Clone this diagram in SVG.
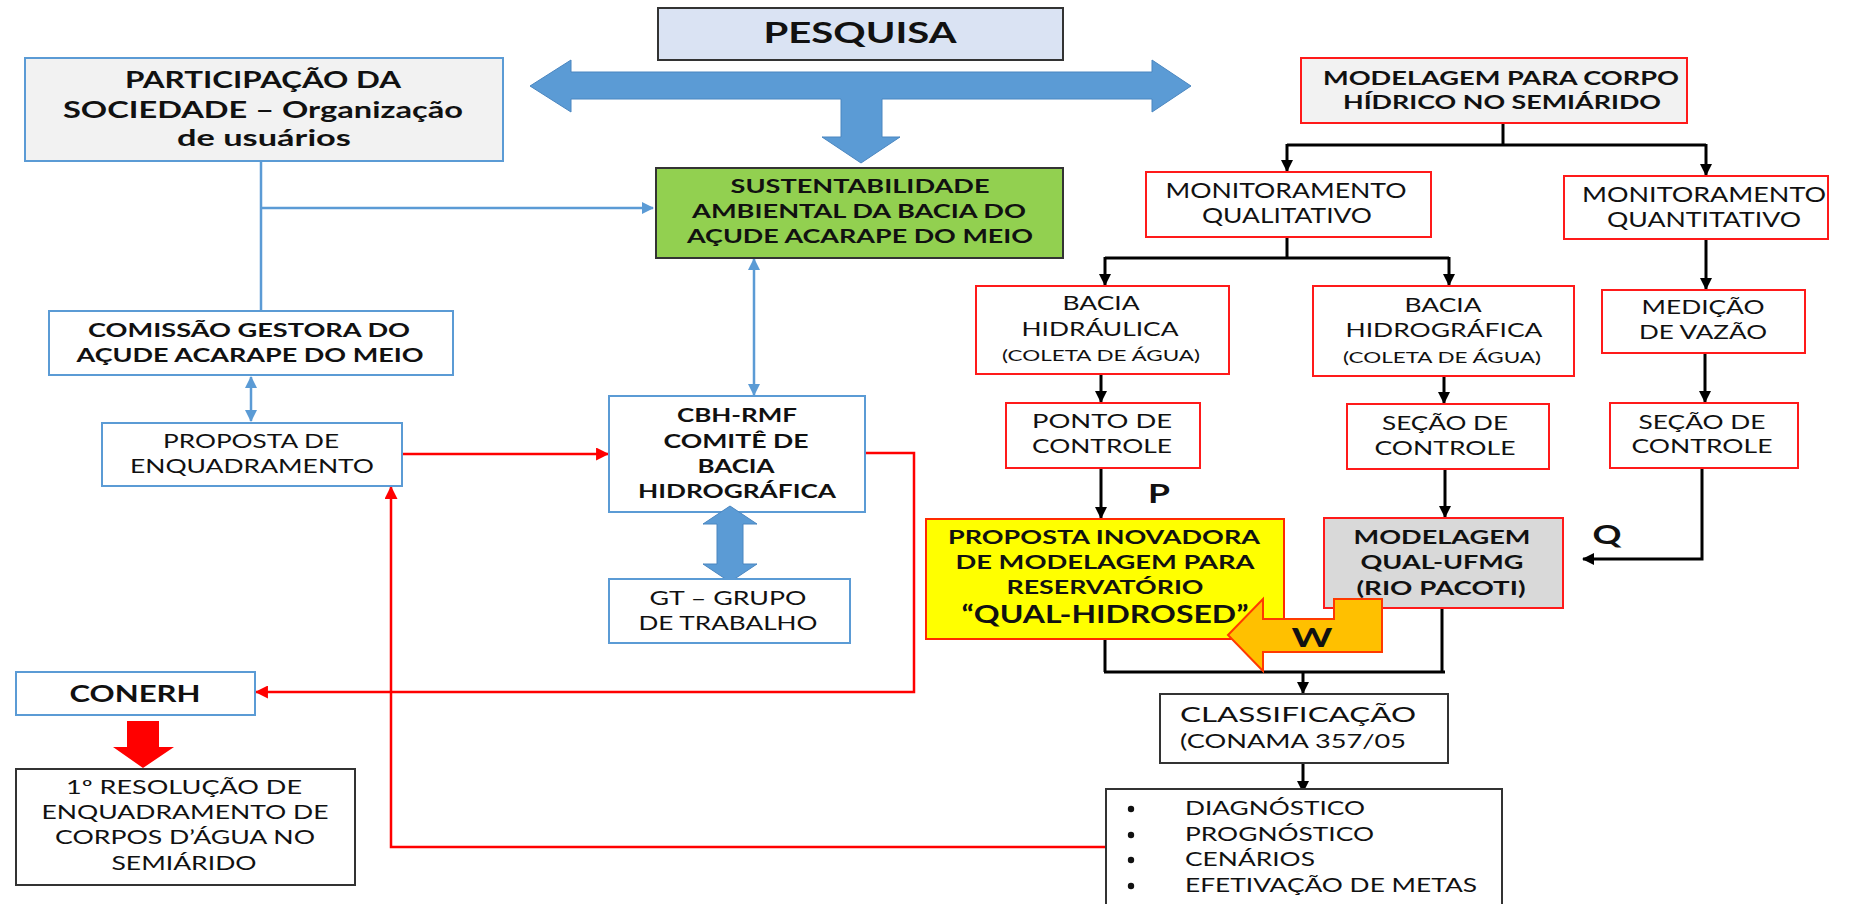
<svg xmlns="http://www.w3.org/2000/svg" width="1852" height="904" viewBox="0 0 1852 904">
<style>
text{font-family:Lato,"Open Sans","Liberation Sans",sans-serif;fill:#111;text-anchor:middle}
.b{font-weight:bold}
.r{font-weight:normal}
.bx{stroke-width:2}
.blue{fill:#fff;stroke:#5B9BD5}
.red{fill:#fff;stroke:#FF1A1A}
.blk{fill:#fff;stroke:#333}
.cb{fill:none;stroke:#000;stroke-width:3}
.cl{fill:none;stroke:#5B9BD5;stroke-width:2.5}
.cr{fill:none;stroke:#FF0000;stroke-width:2.5}
</style>
<defs>
<marker id="ak" viewBox="0 0 12 12" refX="11" refY="6" markerWidth="12" markerHeight="12" orient="auto-start-reverse" markerUnits="userSpaceOnUse"><path d="M0,0 L12,6 L0,12 z" fill="#000"/></marker>
<marker id="al" viewBox="0 0 12 12" refX="11" refY="6" markerWidth="12" markerHeight="12" orient="auto-start-reverse" markerUnits="userSpaceOnUse"><path d="M0,0 L12,6 L0,12 z" fill="#5B9BD5"/></marker>
<marker id="ar" viewBox="0 0 12 12" refX="11" refY="6" markerWidth="13" markerHeight="13" orient="auto-start-reverse" markerUnits="userSpaceOnUse"><path d="M0,0 L12,6 L0,12 z" fill="#FF0000"/></marker>
</defs>

<g id="connectors">
<!-- blue -->
<path class="cl" d="M261,161 V311"/>
<path class="cl" d="M261,208 H653" marker-end="url(#al)"/>
<path class="cl" d="M251,377 V421" marker-start="url(#al)" marker-end="url(#al)"/>
<path class="cl" d="M754,259 V395" marker-start="url(#al)" marker-end="url(#al)"/>
<!-- red -->
<path class="cr" d="M402,454 H608" marker-end="url(#ar)"/>
<path class="cr" d="M865,453 H914 V692 H256" marker-end="url(#ar)"/>
<path class="cr" d="M1106,847 H391 V487" marker-end="url(#ar)"/>
<!-- black -->
<path class="cb" d="M1503,123 V145"/>
<path class="cb" d="M1287,145 H1706"/>
<path class="cb" d="M1287,144 V171" marker-end="url(#ak)"/>
<path class="cb" d="M1706,144 V175" marker-end="url(#ak)"/>
<path class="cb" d="M1287,237 V258"/>
<path class="cb" d="M1105,258 H1449"/>
<path class="cb" d="M1105,257 V285" marker-end="url(#ak)"/>
<path class="cb" d="M1449,257 V285" marker-end="url(#ak)"/>
<path class="cb" d="M1706,239 V289" marker-end="url(#ak)"/>
<path class="cb" d="M1101,374 V402" marker-end="url(#ak)"/>
<path class="cb" d="M1444,368 V403" marker-end="url(#ak)"/>
<path class="cb" d="M1705,353 V402" marker-end="url(#ak)"/>
<path class="cb" d="M1101,468 V518" marker-end="url(#ak)"/>
<path class="cb" d="M1445,469 V517" marker-end="url(#ak)"/>
<path class="cb" d="M1702,468 V559 H1583" marker-end="url(#ak)"/>
<path class="cb" d="M1105,639 V672"/>
<path class="cb" d="M1442,608 V672"/>
<path class="cb" d="M1104,672 H1445"/>
<path class="cb" d="M1303,671 V693" marker-end="url(#ak)"/>
<path class="cb" d="M1303,763 V792" marker-end="url(#ak)"/>
</g>

<g id="pesquisa">
<rect x="658" y="8" width="405" height="52" fill="#DAE3F3" stroke="#333" stroke-width="2"/>
<text class="b" x="860" y="43" font-size="28" textLength="193" lengthAdjust="spacingAndGlyphs">PESQUISA</text>
</g>
<g id="pesquisa-arrow">
<polygon points="530,86 571,60 571,72 1152,72 1152,60 1191,86 1152,112 1152,99 882,99 882,137 900,137 861,163 822,137 841,137 841,99 571,99 571,112" fill="#5B9BD5" stroke="#4A86C0" stroke-width="1"/>
</g>

<g id="participacao">
<rect class="bx" x="25" y="58" width="478" height="103" fill="#F2F2F2" stroke="#5B9BD5"/>
<text class="b" x="263" y="88" font-size="22" textLength="276" lengthAdjust="spacingAndGlyphs">PARTICIPAÇÃO DA</text>
<text class="b" x="263" y="118" font-size="22" textLength="400" lengthAdjust="spacingAndGlyphs">SOCIEDADE – Organização</text>
<text class="b" x="264" y="146" font-size="22" textLength="174" lengthAdjust="spacingAndGlyphs">de usuários</text>
</g>

<g id="sustentabilidade">
<rect x="656" y="168" width="407" height="90" fill="#92D050" stroke="#333" stroke-width="2"/>
<text class="b" x="860" y="193" font-size="19" textLength="259" lengthAdjust="spacingAndGlyphs">SUSTENTABILIDADE</text>
<text class="b" x="859" y="218" font-size="19" textLength="334" lengthAdjust="spacingAndGlyphs">AMBIENTAL DA BACIA DO</text>
<text class="b" x="860" y="243" font-size="19" textLength="346" lengthAdjust="spacingAndGlyphs">AÇUDE ACARAPE DO MEIO</text>
</g>

<g id="comissao">
<rect class="bx blue" x="49" y="311" width="404" height="64"/>
<text class="b" x="249" y="337" font-size="19" textLength="322" lengthAdjust="spacingAndGlyphs">COMISSÃO GESTORA DO</text>
<text class="b" x="250" y="362" font-size="19" textLength="347" lengthAdjust="spacingAndGlyphs">AÇUDE ACARAPE DO MEIO</text>
</g>

<g id="proposta-enquadramento">
<rect class="bx blue" x="102" y="423" width="300" height="63"/>
<text class="r" x="251" y="448" font-size="19" textLength="176" lengthAdjust="spacingAndGlyphs">PROPOSTA DE</text>
<text class="r" x="252" y="473" font-size="19" textLength="244" lengthAdjust="spacingAndGlyphs">ENQUADRAMENTO</text>
</g>

<g id="cbh">
<rect class="bx blue" x="609" y="396" width="256" height="116"/>
<text class="b" x="737" y="422" font-size="19" textLength="120" lengthAdjust="spacingAndGlyphs">CBH-RMF</text>
<text class="b" x="736" y="448" font-size="19" textLength="145" lengthAdjust="spacingAndGlyphs">COMITÊ DE</text>
<text class="b" x="736" y="473" font-size="19" textLength="77" lengthAdjust="spacingAndGlyphs">BACIA</text>
<text class="b" x="737" y="498" font-size="19" textLength="198" lengthAdjust="spacingAndGlyphs">HIDROGRÁFICA</text>
</g>

<g id="cbh-gt-arrow">
<polygon points="730,506 757,524 743,524 743,564 757,564 730,582 703,564 717,564 717,524 703,524" fill="#5B9BD5" stroke="#4A86C0" stroke-width="1"/>
</g>

<g id="gt">
<rect class="bx blue" x="609" y="579" width="241" height="64"/>
<text class="r" x="728" y="605" font-size="19" textLength="157" lengthAdjust="spacingAndGlyphs">GT – GRUPO</text>
<text class="r" x="728" y="630" font-size="19" textLength="179" lengthAdjust="spacingAndGlyphs">DE TRABALHO</text>
</g>

<g id="conerh">
<rect class="bx blue" x="16" y="672" width="239" height="43"/>
<text class="b" x="135" y="702" font-size="23" textLength="131" lengthAdjust="spacingAndGlyphs">CONERH</text>
</g>

<g id="conerh-arrow">
<polygon points="127,721 159,721 159,747 174,747 143,768 113,747 127,747" fill="#FF0000"/>
</g>

<g id="resolucao">
<rect class="bx blk" x="16" y="769" width="339" height="116"/>
<text class="r" x="184" y="794" font-size="19" textLength="236" lengthAdjust="spacingAndGlyphs">1º RESOLUÇÃO DE</text>
<text class="r" x="185" y="819" font-size="19" textLength="287" lengthAdjust="spacingAndGlyphs">ENQUADRAMENTO DE</text>
<text class="r" x="185" y="844" font-size="19" textLength="260" lengthAdjust="spacingAndGlyphs">CORPOS D’ÁGUA NO</text>
<text class="r" x="184" y="870" font-size="19" textLength="145" lengthAdjust="spacingAndGlyphs">SEMIÁRIDO</text>
</g>

<g id="modelagem-corpo">
<rect class="bx" x="1301" y="58" width="386" height="65" fill="#F2F2F2" stroke="#FF1A1A"/>
<text class="b" x="1501" y="85" font-size="19.5" textLength="356" lengthAdjust="spacingAndGlyphs">MODELAGEM PARA CORPO</text>
<text class="b" x="1502" y="109" font-size="19.5" textLength="318" lengthAdjust="spacingAndGlyphs">HÍDRICO  NO SEMIÁRIDO</text>
</g>

<g id="monit-qualitativo">
<rect class="bx red" x="1146" y="172" width="285" height="65"/>
<text class="r" x="1286" y="198" font-size="21" textLength="241" lengthAdjust="spacingAndGlyphs">MONITORAMENTO</text>
<text class="r" x="1287" y="223" font-size="21" textLength="170" lengthAdjust="spacingAndGlyphs">QUALITATIVO</text>
</g>

<g id="monit-quantitativo">
<rect class="bx red" x="1564" y="176" width="264" height="63"/>
<text class="r" x="1704" y="202" font-size="21" textLength="244" lengthAdjust="spacingAndGlyphs">MONITORAMENTO</text>
<text class="r" x="1704" y="227" font-size="21" textLength="194" lengthAdjust="spacingAndGlyphs">QUANTITATIVO</text>
</g>

<g id="bacia-hidraulica">
<rect class="bx red" x="976" y="286" width="253" height="88"/>
<text class="r" x="1101" y="310" font-size="19" textLength="77" lengthAdjust="spacingAndGlyphs">BACIA</text>
<text class="r" x="1100" y="336" font-size="19" textLength="157" lengthAdjust="spacingAndGlyphs">HIDRÁULICA</text>
<text class="r" x="1101" y="361" font-size="16" textLength="198" lengthAdjust="spacingAndGlyphs">(COLETA  DE ÁGUA)</text>
</g>

<g id="bacia-hidrografica">
<rect class="bx red" x="1313" y="286" width="261" height="90"/>
<text class="r" x="1443" y="312" font-size="19" textLength="77" lengthAdjust="spacingAndGlyphs">BACIA</text>
<text class="r" x="1444" y="337" font-size="19" textLength="197" lengthAdjust="spacingAndGlyphs">HIDROGRÁFICA</text>
<text class="r" x="1442" y="363" font-size="16" textLength="198" lengthAdjust="spacingAndGlyphs">(COLETA  DE ÁGUA)</text>
</g>

<g id="medicao">
<rect class="bx red" x="1602" y="290" width="203" height="63"/>
<text class="r" x="1703" y="314" font-size="20" textLength="123" lengthAdjust="spacingAndGlyphs">MEDIÇÃO</text>
<text class="r" x="1703" y="339" font-size="20" textLength="128" lengthAdjust="spacingAndGlyphs">DE VAZÃO</text>
</g>

<g id="ponto-controle">
<rect class="bx red" x="1006" y="403" width="194" height="65"/>
<text class="r" x="1102" y="428" font-size="19" textLength="140" lengthAdjust="spacingAndGlyphs">PONTO  DE</text>
<text class="r" x="1102" y="453" font-size="19" textLength="140" lengthAdjust="spacingAndGlyphs">CONTROLE</text>
</g>

<g id="secao-controle-1">
<rect class="bx red" x="1347" y="404" width="202" height="65"/>
<text class="r" x="1445" y="430" font-size="20" textLength="126" lengthAdjust="spacingAndGlyphs">SEÇÃO DE</text>
<text class="r" x="1445" y="455" font-size="20" textLength="141" lengthAdjust="spacingAndGlyphs">CONTROLE</text>
</g>

<g id="secao-controle-2">
<rect class="bx red" x="1610" y="403" width="188" height="65"/>
<text class="r" x="1702" y="429" font-size="20" textLength="127" lengthAdjust="spacingAndGlyphs">SEÇÃO DE</text>
<text class="r" x="1702" y="453" font-size="20" textLength="141" lengthAdjust="spacingAndGlyphs">CONTROLE</text>
</g>

<g id="label-p"><text class="b" x="1159" y="503" font-size="26" textLength="22" lengthAdjust="spacingAndGlyphs">P</text></g>
<g id="label-q"><text class="b" x="1607" y="544" font-size="27" textLength="29" lengthAdjust="spacingAndGlyphs">Q</text></g>

<g id="qual-hidrosed">
<rect class="bx" x="926" y="519" width="358" height="120" fill="#FFFF00" stroke="#FF2A00"/>
<text class="b" x="1104" y="544" font-size="19" textLength="312" lengthAdjust="spacingAndGlyphs">PROPOSTA INOVADORA</text>
<text class="b" x="1105" y="569" font-size="19" textLength="299" lengthAdjust="spacingAndGlyphs">DE MODELAGEM PARA</text>
<text class="b" x="1105" y="594" font-size="19" textLength="197" lengthAdjust="spacingAndGlyphs">RESERVATÓRIO</text>
<text class="b" x="1105" y="623" font-size="25" textLength="287" lengthAdjust="spacingAndGlyphs">“QUAL-HIDROSED”</text>
</g>

<g id="qual-ufmg">
<rect class="bx" x="1324" y="518" width="239" height="90" fill="#D9D9D9" stroke="#FF1A1A"/>
<text class="b" x="1442" y="544" font-size="19" textLength="177" lengthAdjust="spacingAndGlyphs">MODELAGEM</text>
<text class="b" x="1442" y="569" font-size="19" textLength="163" lengthAdjust="spacingAndGlyphs">QUAL-UFMG</text>
<text class="b" x="1441" y="595" font-size="19" textLength="169" lengthAdjust="spacingAndGlyphs">(RIO PACOTI)</text>
</g>

<g id="w-arrow">
<polygon points="1334,599 1382,599 1382,652 1263,652 1263,671 1228,635 1263,599 1263,619 1334,619" fill="#FFC000" stroke="#FF3A00" stroke-width="2" stroke-linejoin="miter"/>
<text class="b" x="1312" y="647" font-size="27" textLength="41" lengthAdjust="spacingAndGlyphs">W</text>
</g>

<g id="classificacao">
<rect class="bx blk" x="1160" y="694" width="288" height="69"/>
<text class="r" x="1180" y="722" font-size="22" style="text-anchor:start" textLength="236" lengthAdjust="spacingAndGlyphs">CLASSIFICAÇÃO</text>
<text class="r" x="1180" y="748" font-size="19" style="text-anchor:start" textLength="226" lengthAdjust="spacingAndGlyphs">(CONAMA 357/05</text>
</g>

<g id="resultados">
<rect class="bx blk" x="1106" y="789" width="396" height="130"/>
<circle cx="1131" cy="809" r="3.2" fill="#111"/>
<circle cx="1131" cy="835" r="3.2" fill="#111"/>
<circle cx="1131" cy="860" r="3.2" fill="#111"/>
<circle cx="1131" cy="886" r="3.2" fill="#111"/>
<text class="r" x="1185" y="815" font-size="19" style="text-anchor:start" textLength="180" lengthAdjust="spacingAndGlyphs">DIAGNÓSTICO</text>
<text class="r" x="1185" y="841" font-size="19" style="text-anchor:start" textLength="189" lengthAdjust="spacingAndGlyphs">PROGNÓSTICO</text>
<text class="r" x="1185" y="866" font-size="19" style="text-anchor:start" textLength="130" lengthAdjust="spacingAndGlyphs">CENÁRIOS</text>
<text class="r" x="1185" y="892" font-size="19" style="text-anchor:start" textLength="292" lengthAdjust="spacingAndGlyphs">EFETIVAÇÃO DE METAS</text>
</g>
</svg>
